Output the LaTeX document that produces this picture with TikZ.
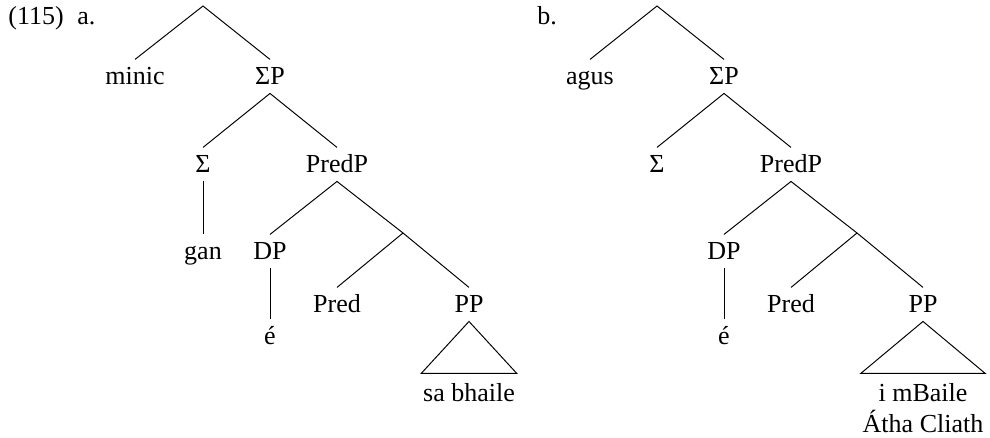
\documentclass[tikz,border=0pt]{standalone}
\usepackage{fontspec}
\setmainfont{Liberation Serif}
\usetikzlibrary{positioning}

\begin{document}
\begin{tikzpicture}[
    x=0.4615pt, y=-0.4615pt,
    font=\fontsize{12}{14.5}\selectfont,
    cat/.style={inner sep=3.7pt, text height=7.9pt, text depth=0pt, anchor=base},
    roof/.style={inner xsep=0.7pt, inner ysep=4.2pt, align=center},
    exlabel/.style={inner sep=0pt, anchor=base west},
    branch/.style={line width=0.45pt},
]
\useasboundingbox (0,0) rectangle (990,438);

% Example labels
\node[exlabel] (num) at (8,25) {(115)};
\node[exlabel] (a-lbl) at (77,25) {a.};
\node[exlabel] (b-lbl) at (537,25) {b.};

% Tree (a)
\coordinate (a-top) at (203,6);
\node[cat] (a-minic) at (135,85) {minic};
\node[cat] (a-sp) at (270,85) {ΣP};
\node[cat] (a-sig) at (203,173) {Σ};
\node[cat] (a-predp) at (337,173) {PredP};
\node[cat] (a-gan) at (203,260) {gan};
\node[cat] (a-dp) at (270,260) {DP};
\coordinate (a-bar) at (403,233);
\node[cat] (a-pred) at (337,313) {Pred};
\node[cat] (a-pp) at (469,313) {PP};
\node[cat] (a-e) at (270,345) {é};
\node[roof, below=24pt of a-pp] (a-obj) {sa bhaile};

\draw[branch] (a-minic.north) -- (a-top) -- (a-sp.north);
\draw[branch] (a-sig.north) -- (a-sp.south) -- (a-predp.north);
\draw[branch] (a-sig.south) -- (a-gan.north);
\draw[branch] (a-dp.north) -- (a-predp.south) -- (a-bar);
\draw[branch] (a-pred.north) -- (a-bar) -- (a-pp.north);
\draw[branch] (a-dp.south) -- (a-e.north);
\draw[branch] (a-pp.south) -- (a-obj.north west) -- (a-obj.north east) -- cycle;

% Tree (b)
\coordinate (b-top) at (657,6);
\node[cat] (b-agus) at (590,85) {agus};
\node[cat] (b-sp) at (724,85) {ΣP};
\node[cat] (b-sig) at (657,173) {Σ};
\node[cat] (b-predp) at (791,173) {PredP};
\node[cat] (b-dp) at (724,260) {DP};
\coordinate (b-bar) at (857,233);
\node[cat] (b-pred) at (791,313) {Pred};
\node[cat] (b-pp) at (923,313) {PP};
\node[cat] (b-e) at (724,345) {é};
\node[roof, below=24pt of b-pp] (b-obj) {i mBaile\\Átha Cliath};

\draw[branch] (b-agus.north) -- (b-top) -- (b-sp.north);
\draw[branch] (b-sig.north) -- (b-sp.south) -- (b-predp.north);
\draw[branch] (b-dp.north) -- (b-predp.south) -- (b-bar);
\draw[branch] (b-pred.north) -- (b-bar) -- (b-pp.north);
\draw[branch] (b-dp.south) -- (b-e.north);
\draw[branch] (b-pp.south) -- (b-obj.north west) -- (b-obj.north east) -- cycle;

\end{tikzpicture}
\end{document}
